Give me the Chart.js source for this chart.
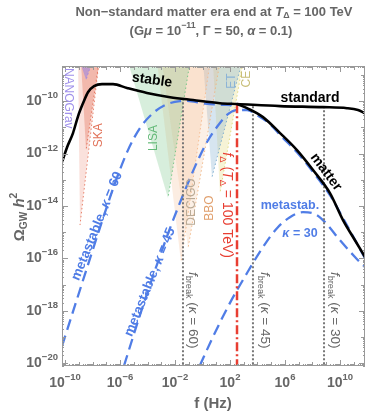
<!DOCTYPE html>
<html>
<head>
<meta charset="utf-8">
<script src="https://cdn.jsdelivr.net/npm/chart.js@4.4.1/dist/chart.umd.min.js"></script>
<style>
  html, body { margin: 0; padding: 0; background: #fff; }
  canvas { display: block; }
</style>
</head>
<body>
<canvas id="grafico" width="371" height="415"></canvas>
<script>
// valores: log10 f (Hz) e log10 Omega_GW h^2
const padraoF = [-10.22, -9.85, -9.42, -9.05, -8.69, -8.33, -7.89, -7.31, -6.51, -5.49, -4.04, -2.36, -0.69, 1.27, 2.51, 5.64, 8.76, 10.51, 11.31, 11.82];
const padraoO = [-12.33, -11.76, -11.22, -10.57, -10.08, -9.66, -9.43, -9.35, -9.35, -9.50, -9.69, -9.85, -9.96, -10.08, -10.11, -10.19, -10.23, -10.27, -10.34, -10.46];

const materiaF = [2.51, 3.24, 4.40, 5.64, 6.87, 8.04, 9.27, 10.22, 11.09, 11.82];
const materiaO = [-10.11, -10.27, -10.61, -11.22, -11.87, -12.63, -13.51, -14.54, -15.31, -15.95];

const meta60F = [-10.22, -9.27, -8.18, -7.09, -6.15, -5.42, -4.55, -3.60, -2.73, -1.64, -1.13, 0.18, 2.51];
const meta60O = [-19.35, -17.79, -16.0, -14.24, -12.82, -11.87, -11.03, -10.46, -10.15, -10.0, -9.99, -10.1, -10.16];

const meta45F = [-5.71, -4.55, -3.45, -2.36, -1.42, -0.40, 0.33, 1.05, 1.78, 2.51, 3.24, 3.96, 4.91, 5.78, 6.87, 8.04, 9.27, 10.36, 11.82];
const meta45O = [-20.1, -18.17, -16.45, -14.85, -13.59, -12.33, -11.56, -10.99, -10.53, -10.34, -10.34, -10.53, -10.88, -11.37, -11.95, -12.71, -13.59, -14.6, -16.0];

const meta30F = [-0.2, 0.76, 2.0, 3.24, 4.4, 5.42, 6.36, 7.31, 8.18, 8.91, 10.0, 11.09, 11.82];
const meta30O = [-20.1, -19.0, -17.7, -16.56, -15.57, -14.85, -14.43, -14.24, -14.31, -14.62, -15.31, -15.95, -16.34];

const fDelta = 2.51, fDeltaTopo = -10.11;
const fBreak = [-1.42, 3.67, 8.84];
const fBreakTopo = [-9.91, -10.14, -10.23];
const kappas = ["60", "45", "30"];

// curvas de sensibilidade (triangulos aproximados)
const sensNomes = ["NANOGrav", "SKA", "SKA2", "LISA", "DECIGO", "BBO", "ET", "CE"];
const sensF = [
  [-8.91, -8.04, -8.47],
  [-9.05, -7.53, -8.91],
  [-8.84, -7.53, -8.47],
  [-5.42, -0.91, -2.51],
  [-3.31, 0.55, -1.56],
  [-2.95, 1.27, -1.05],
  [0.04, 2.87, 0.69],
  [0.76, 2.95, 1.27]
];
const sensO = [
  [-8.5, -8.5, -9.19],
  [-8.5, -8.5, -14.73],
  [-8.5, -8.5, -11.87],
  [-8.5, -8.5, -13.70],
  [-8.5, -8.5, -16.15],
  [-8.5, -8.5, -15.61],
  [-8.5, -8.5, -12.9],
  [-8.5, -8.5, -13.51]
];
const sensCor = [
  [150, 130, 230, 0.55],
  [230, 120, 95, 0.22],
  [225, 105, 80, 0.35],
  [110, 195, 130, 0.28],
  [245, 185, 140, 0.25],
  [240, 180, 130, 0.2],
  [120, 170, 205, 0.3],
  [225, 215, 120, 0.3]
];

const xTicksRot = [-10, -6, -2, 2, 6, 10];
const yTicksRot = [-20, -18, -16, -14, -12, -10];

const AZUL = "rgb(80,125,230)";
const VERMELHO = "rgb(232,62,50)";
const CINZA = "#666";
const FAM = '"Liberation Sans", Arial, sans-serif';

function pontos(fs, os) {
  return fs.map((f, i) => ({ x: f, y: os[i] }));
}

const datasets = [];
datasets.push({ data: pontos(padraoF, padraoO), borderColor: "#000", borderWidth: 2.6, cubicInterpolationMode: "monotone" });
datasets.push({ data: pontos(materiaF, materiaO), borderColor: "#000", borderWidth: 2.6, cubicInterpolationMode: "monotone" });
datasets.push({ data: pontos([fDelta, fDelta], [-20.2, fDeltaTopo]), borderColor: VERMELHO, borderWidth: 2.5, borderDash: [9, 3, 2, 3] });
fBreak.forEach((f, i) => {
  datasets.push({ data: pontos([f, f], [-20.2, fBreakTopo[i]]), borderColor: "#777", borderWidth: 2, borderDash: [2, 2] });
});
[[meta60F, meta60O], [meta45F, meta45O], [meta30F, meta30O]].forEach(c => {
  datasets.push({ data: pontos(c[0], c[1]), borderColor: AZUL, borderWidth: 2.3, borderDash: [11, 6], cubicInterpolationMode: "monotone" });
});
sensNomes.forEach((n, i) => {
  const c = sensCor[i];
  datasets.push({
    data: pontos(sensF[i], sensO[i]),
    borderColor: `rgba(${c[0]},${c[1]},${c[2]},0.9)`,
    backgroundColor: `rgba(${c[0]},${c[1]},${c[2]},${c[3]})`,
    borderWidth: 1, borderDash: [1.5, 2.5], fill: "shape", tension: 0
  });
});
datasets.forEach(d => { d.pointRadius = 0; d.clip = 0; d.fill = d.fill || false; });

// texto com subscrito / sobrescrito / italico
function T(t, f) { return Object.assign({ t: t }, f || {}); }
function rico(ctx, partes, x, y, op) {
  const size = op.size, peso = op.peso || "bold";
  ctx.save();
  ctx.translate(x, y);
  if (op.rot) ctx.rotate(op.rot * Math.PI / 180);
  ctx.fillStyle = op.cor;
  ctx.textBaseline = "middle";
  const fonte = p => (p.it ? "italic " : "") + peso + " " + ((p.sub || p.sup) ? size * 0.68 : size) + "px " + FAM;
  let w = 0;
  partes.forEach(p => { ctx.font = fonte(p); p.w = ctx.measureText(p.t).width; w += p.w; });
  let cx = op.align === "right" ? -w : op.align === "left" ? 0 : -w / 2;
  partes.forEach(p => {
    ctx.font = fonte(p);
    const dy = p.sub ? size * 0.3 : p.sup ? -size * 0.4 : 0;
    ctx.fillText(p.t, cx, dy);
    cx += p.w;
  });
  ctx.restore();
}
function pot(e) { return [T("10"), T(e < 0 ? "\u2212" + (-e) : String(e), { sup: true })]; }

const desenho = {
  id: "desenho",
  afterDraw(chart) {
    const { ctx, chartArea: a, scales: { x, y } } = chart;
    const X = v => x.getPixelForValue(v), Y = v => y.getPixelForValue(v);

    // moldura e marcas
    ctx.save();
    ctx.strokeStyle = "#999";
    ctx.lineWidth = 1;
    ctx.strokeRect(a.left + 0.5, a.top + 0.5, a.right - a.left - 1, a.bottom - a.top - 1);
    ctx.beginPath();
    for (let d = -11; d <= 12; d++) {
      for (let k = 1; k <= 9; k++) {
        const v = d + Math.log10(k);
        if (v < x.min || v > x.max) continue;
        const len = k === 1 ? (xTicksRot.includes(d) ? 6 : 4) : 2;
        const p = Math.round(X(v)) + 0.5;
        ctx.moveTo(p, a.bottom); ctx.lineTo(p, a.bottom - len);
        ctx.moveTo(p, a.top); ctx.lineTo(p, a.top + len);
      }
    }
    for (let d = -21; d <= -8; d++) {
      for (let k = 1; k <= 9; k++) {
        const v = d + Math.log10(k);
        if (v < y.min || v > y.max) continue;
        const len = k === 1 ? (yTicksRot.includes(d) ? 6 : 4) : 2;
        const p = Math.round(Y(v)) + 0.5;
        ctx.moveTo(a.left, p); ctx.lineTo(a.left + len, p);
        ctx.moveTo(a.right, p); ctx.lineTo(a.right - len, p);
      }
    }
    ctx.stroke();
    ctx.restore();

    xTicksRot.forEach(e => rico(ctx, pot(e), X(e), a.bottom + 17, { size: 14, cor: CINZA }));
    yTicksRot.forEach(e => rico(ctx, pot(e), a.left - 4, Y(e), { size: 14, cor: CINZA, align: "right" }));

    // titulos
    rico(ctx, [T("Non\u2212standard matter era end at "), T("T", { it: true }), T("\u0394", { sub: true }), T(" = 100 TeV")], 214, 12, { size: 13, cor: CINZA });
    rico(ctx, [T("(G"), T("\u03bc", { it: true }), T(" = 10"), T("\u221211", { sup: true }), T(", \u0393 = 50, "), T("\u03b1", { it: true }), T(" = 0.1)")], 211, 31, { size: 13, cor: CINZA });
    rico(ctx, [T("\u03a9"), T("GW", { sub: true }), T(" "), T("h", { it: true }), T("2", { sup: true })], 20, 217, { size: 15, cor: CINZA, rot: -90 });
    rico(ctx, [T("f (Hz)")], 213, 404, { size: 15, cor: CINZA });

    // rotulos das curvas
    rico(ctx, [T("stable")], X(-3.67), Y(-9.2), { size: 14, cor: "#000", rot: 8 });
    rico(ctx, [T("standard")], X(7.82), Y(-9.87), { size: 14, cor: "#000" });
    rico(ctx, [T("matter")], X(8.98), Y(-12.71), { size: 14, cor: "#000", rot: 53 });
    rico(ctx, [T("metastable, "), T("\u03ba", { it: true }), T(" = 60")], X(-7.67), Y(-14.77), { size: 13.5, cor: AZUL, rot: -68 });
    rico(ctx, [T("metastable, "), T("\u03ba", { it: true }), T(" = 45")], X(-3.82), Y(-16.91), { size: 13.5, cor: AZUL, rot: -68 });
    rico(ctx, [T("metastab.")], X(6.36), Y(-14.0), { size: 12.5, cor: AZUL });
    rico(ctx, [T("\u03ba", { it: true }), T(" = 30")], X(7.09), Y(-15.04), { size: 12.5, cor: AZUL });
    rico(ctx, [T("f", { it: true }), T("\u0394", { sub: true }), T(" ("), T("T", { it: true }), T("\u0394", { sub: true }), T(" = 100 TeV)")], X(1.78), Y(-13.97), { size: 14, cor: VERMELHO, rot: 90, peso: "normal" });
    fBreak.forEach((f, i) => {
      const pos = [-0.69, 4.55, 9.64][i];
      rico(ctx, [T("f", { it: true }), T("break", { sub: true }), T(" ("), T("\u03ba", { it: true }), T(" = " + kappas[i] + ")")], X(pos), Y(-17.98), { size: 13.5, cor: CINZA, rot: 90, peso: "normal" });
    });

    // rotulos dos detectores
    const det = [
      ["NANOGrav", -9.78, -9.89, 90, "rgb(160,145,235)"],
      ["SKA", -7.53, -11.3, -90, "rgb(225,115,90)"],
      ["LISA", -3.53, -11.41, -90, "rgb(100,185,120)"],
      ["DECIGO", -0.76, -13.85, -90, "rgb(185,170,150)"],
      ["BBO", 0.55, -14.08, -90, "rgb(225,160,110)"],
      ["ET", 2.15, -9.24, -90, "rgb(140,180,215)"],
      ["CE", 3.24, -9.16, -90, "rgb(200,190,120)"]
    ];
    det.forEach(d => rico(ctx, [T(d[0])], X(d[1]), Y(d[2]), { size: 12, cor: d[4], rot: d[3], peso: "normal" }));
  }
};

new Chart(document.getElementById("grafico"), {
  type: "line",
  data: { datasets: datasets },
  options: {
    responsive: false,
    animation: false,
    events: [],
    layout: { padding: { left: 62, right: 6, top: 66, bottom: 49 } },
    plugins: { legend: { display: false }, tooltip: { enabled: false }, title: { display: false } },
    scales: {
      x: { type: "linear", min: -10.22, max: 11.82, display: false },
      y: { type: "linear", min: -20.11, max: -8.66, display: false }
    }
  },
  plugins: [desenho]
});
</script>
</body>
</html>
